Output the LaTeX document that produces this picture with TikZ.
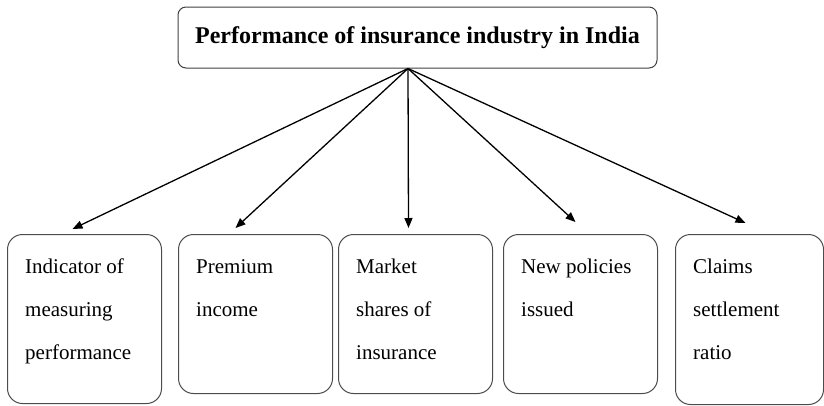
\documentclass[tikz,border=0pt]{standalone}
\usepackage{fontspec}
\setmainfont{Liberation Serif}
\usetikzlibrary{arrows.meta}
\tikzset{
	topbox/.style={draw=black!75, line width=1pt, rounded corners=8pt, minimum width=479pt, minimum height=61pt, inner sep=0pt, font=\fontsize{24}{28}\selectfont\bfseries},
	leaf/.style={draw=black!70, line width=1pt, rounded corners=15pt, minimum width=154pt, anchor=north west, inner sep=0pt},
	leaftext/.style={anchor=north west, align=left, inner sep=0pt, font=\fontsize{21}{43}\selectfont},
	link/.style={-{Triangle[length=10pt,width=8pt]}, line width=1.3pt}
}
\begin{document}
\begin{tikzpicture}[x=1pt, y=-1pt]
	\useasboundingbox (0,0) rectangle (824,405);
	\node[topbox] (title) at (417.5,37.5) {Performance of insurance industry in India};
	\coordinate (hub) at ([xshift=-9.5pt]title.south);
	\node[leaf, minimum height=169pt] (b1) at (7,234) {};
	\node[leaf, minimum height=159pt] (b2) at (178,234) {};
	\node[leaf, minimum height=159pt] (b3) at (338,234) {};
	\node[leaf, minimum height=159pt] (b4) at (503,234) {};
	\node[leaf, minimum height=170pt, minimum width=148pt] (b5) at (675,234) {};
	\node[leaftext] (l1) at ([shift={(18pt,-25pt)}]b1.north west) {Indicator of\\measuring\\performance};
	\node[leaftext] (l2) at ([shift={(18pt,-25pt)}]b2.north west) {Premium\\income};
	\node[leaftext] (l3) at ([shift={(18pt,-25pt)}]b3.north west) {Market\\shares of\\insurance};
	\node[leaftext] (l4) at ([shift={(18pt,-25pt)}]b4.north west) {New policies\\issued};
	\node[leaftext] (l5) at ([shift={(18pt,-25pt)}]b5.north west) {Claims\\settlement\\ratio};
	\foreach \i/\dx/\dy in {1/-12/5, 2/-20/6, 3/-7/6, 4/-5/12, 5/-4/11}
		\draw[link] (hub) -- ([shift={(\dx pt,\dy pt)}]b\i.north);
\end{tikzpicture}
\end{document}
